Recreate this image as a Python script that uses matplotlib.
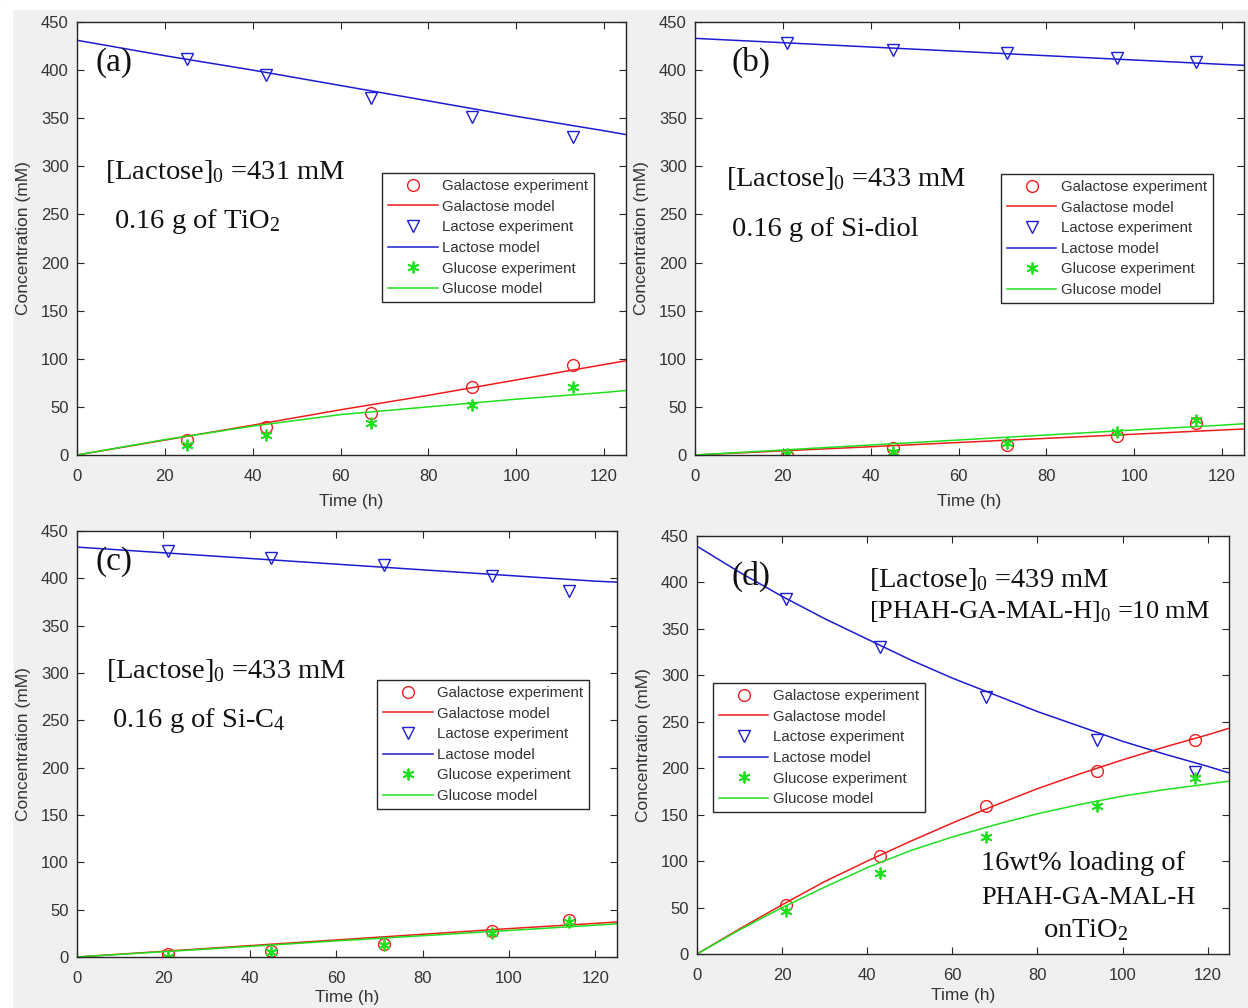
import matplotlib
matplotlib.use("Agg")
import matplotlib.pyplot as plt
from matplotlib.patches import Rectangle

plt.rcParams['font.family'] = ['Liberation Sans', 'DejaVu Sans']
plt.rcParams['mathtext.fontset'] = 'custom'
plt.rcParams['mathtext.rm'] = 'Liberation Serif'
plt.rcParams['mathtext.it'] = 'Liberation Serif:italic'

# ---- data ----
# (a) TiO2
t_a = [25, 43, 67, 90, 113]
gal_a = [16, 29, 44, 71, 93.5]
lac_a = [412, 395, 371, 351, 330]
glu_a = [10.5, 21, 33, 52, 71]
tm_a = [0, 20, 40, 60, 80, 100, 120, 125]
galm_a = [0, 15.5, 31, 47, 62, 78, 94, 98]
lacm_a = [431, 415, 400, 384, 368, 352, 337, 333]
glum_a = [0, 16, 30, 42, 50, 58, 65, 67]

# (b) Si-diol
t_b = [21, 45, 71, 96, 114]
gal_b = [0, 7, 10.5, 20, 33.5]
lac_b = [428, 421, 417.5, 413, 408.5]
glu_b = [1, 3.5, 12, 24, 36]
tm_b = [0, 20, 40, 60, 80, 100, 120, 125]
galm_b = [0, 4.3, 8.6, 13, 17.3, 21.6, 26, 27]
lacm_b = [433, 428.5, 424, 419.5, 415, 410.5, 406, 405]
glum_b = [0, 5.2, 10.4, 15.6, 20.8, 26, 31, 32.5]

# (c) Si-C4
t_c = [21, 45, 71, 96, 114]
gal_c = [3, 6.3, 14, 27.5, 38.7]
lac_c = [429, 422, 414, 402.5, 387]
glu_c = [0, 5.5, 12.7, 25, 37]
tm_c = [0, 20, 40, 60, 80, 100, 120, 125]
galm_c = [0, 6, 12, 18, 24, 30, 35.5, 37]
lacm_c = [433, 427, 421, 415, 409, 403, 397, 396]
glum_c = [0, 5.6, 11.2, 17, 22.5, 28, 33.6, 35]

# (d) PHAH-GA-MAL-H on TiO2
t_d = [21, 43, 68, 94, 117]
gal_d = [53, 106, 159, 197, 230]
lac_d = [382, 330, 277, 230, 196]
glu_d = [46, 87.5, 126, 159, 189]
tm_d = [0, 10, 20, 30, 40, 50, 60, 70, 80, 90, 100, 110, 120, 125]
galm_d = [0, 27, 53, 78, 100, 121, 141, 160, 178, 194, 209, 223, 236, 243]
lacm_d = [439, 411, 385, 361, 339, 317, 297, 279, 261, 245, 229, 215, 202, 195]
glum_d = [0, 26, 50, 72, 93, 111, 126, 139, 151, 161, 170, 177, 183, 186]

xticks = [0, 20, 40, 60, 80, 100, 120]
yticks = [0, 50, 100, 150, 200, 250, 300, 350, 400, 450]
labels = ['Galactose experiment', 'Galactose model', 'Lactose experiment',
          'Lactose model', 'Glucose experiment', 'Glucose model']

RED = '#ee1c1c'
BLUE = '#1c1cd0'
GREEN = '#1ee01e'
DARK = '#262626'
W, H = 1248, 1008

fig = plt.figure(figsize=(W / 100, H / 100), dpi=100, facecolor='#f0f0f0')
fig.patches.append(Rectangle((0, 1 - 9 / H), 1, 9 / H, transform=fig.transFigure,
                             color='white', zorder=0))
fig.patches.append(Rectangle((0, 0), 12 / W, 1, transform=fig.transFigure,
                             color='white', zorder=0))


def make_axes(l, t, r, b):
    return fig.add_axes([l / W, 1 - b / H, (r - l) / W, (b - t) / H])


def panel(ax, t, gal, lac, glu, tm, galm, lacm, glum, leg_xy, xpad=7):
    ax.plot(t, gal, 'o', mfc='none', mec=RED, ms=8.5, mew=1.0)
    ax.plot(tm, galm, '-', color=RED, lw=1.1)
    ax.plot(t, lac, 'v', mfc='none', mec=BLUE, ms=8.5, mew=1.0)
    ax.plot(tm, lacm, '-', color=BLUE, lw=1.1)
    ax.plot(t, glu, ls='none', marker=(6, 2, 0), mec=GREEN, ms=8.5, mew=1.3)
    ax.plot(tm, glum, '-', color=GREEN, lw=1.1)
    ax.set_xlim(0, 125)
    ax.set_ylim(0, 450)
    ax.set_xticks(xticks)
    ax.set_yticks(yticks)
    ax.tick_params(direction='in', top=True, right=True, length=5, width=0.8,
                   labelsize=12, colors=DARK, labelcolor='#333333')
    ax.tick_params(axis='x', pad=10)
    ax.tick_params(axis='y', pad=6)
    for s in ax.spines.values():
        s.set_color(DARK)
        s.set_linewidth(1.0)
    ax.set_xlabel('Time (h)', fontsize=12.5, color='#333333', labelpad=xpad)
    ax.set_ylabel('Concentration (mM)', fontsize=12.5, color='#333333', labelpad=7)
    leg = ax.legend(labels, loc='upper left', bbox_to_anchor=leg_xy, fontsize=10.8,
                    frameon=True, fancybox=False, edgecolor=DARK, framealpha=1,
                    borderaxespad=0, handlelength=3.3, handletextpad=0.3,
                    labelspacing=0.44, borderpad=0.4)
    leg.get_frame().set_linewidth(1.0)
    for txt in leg.get_texts():
        txt.set_color('#333333')


serif = dict(family='Liberation Serif', color='#111111')

ax_a = make_axes(77, 22, 626, 455)
panel(ax_a, t_a, gal_a, lac_a, glu_a, tm_a, galm_a, lacm_a, glum_a, (0.556, 0.651))
ax_a.text(4.1, 399, '(a)', fontsize=24, **serif)
ax_a.text(6.4, 287, '[Lactose]$_0$ =431 mM', fontsize=20.5, **serif)
ax_a.text(8.4, 236, '0.16 g of TiO$_2$', fontsize=20.5, **serif)

ax_b = make_axes(695, 22, 1244, 455)
panel(ax_b, t_b, gal_b, lac_b, glu_b, tm_b, galm_b, lacm_b, glum_b, (0.557, 0.649))
ax_b.text(8.3, 399, '(b)', fontsize=24, **serif)
ax_b.text(7.1, 280, '[Lactose]$_0$ =433 mM', fontsize=20.5, **serif)
ax_b.text(8.5, 228, '0.16 g of Si-diol', fontsize=20.5, **serif)

ax_c = make_axes(77, 531, 617, 957)
panel(ax_c, t_c, gal_c, lac_c, glu_c, tm_c, galm_c, lacm_c, glum_c, (0.556, 0.650),
      xpad=3)
ax_c.text(4.2, 409, '(c)', fontsize=24, **serif)
ax_c.text(6.8, 295, '[Lactose]$_0$ =433 mM', fontsize=20.5, **serif)
ax_c.text(8.2, 243, '0.16 g of Si-C$_4$', fontsize=20.5, **serif)

ax_d = make_axes(697, 536, 1229, 954)
panel(ax_d, t_d, gal_d, lac_d, glu_d, tm_d, galm_d, lacm_d, glum_d, (0.030, 0.648),
      xpad=4)
ax_d.text(8.1, 397, '(d)', fontsize=24, **serif)
ax_d.text(40.4, 395, '[Lactose]$_0$ =439 mM', fontsize=20.5, **serif)
ax_d.text(40.4, 362, '[PHAH-GA-MAL-H]$_0$ =10 mM', fontsize=19, **serif)
ax_d.text(66.7, 90, '16wt% loading of', fontsize=20.5, **serif)
ax_d.text(66.7, 54, 'PHAH-GA-MAL-H', fontsize=19, **serif)
ax_d.text(81.3, 18.6, 'onTiO$_2$', fontsize=20.5, **serif)

fig.savefig('out.png', dpi=100, facecolor=fig.get_facecolor())
